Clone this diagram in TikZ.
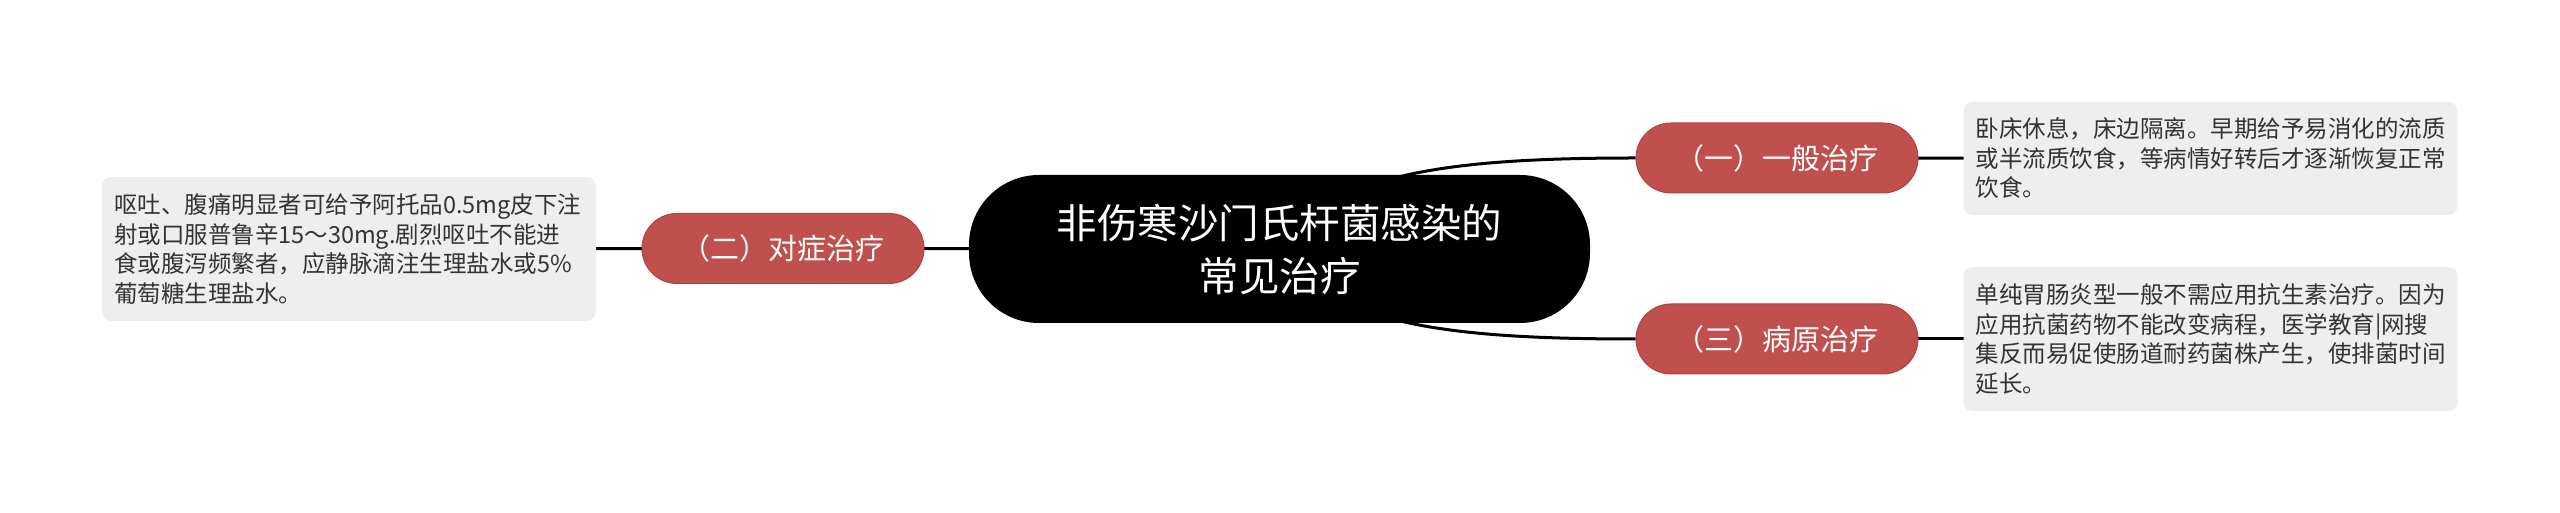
\documentclass[tikz,border=0pt]{standalone}
\usepackage{fontspec}
\usepackage{xcolor}
\usepackage{tikz}
\usetikzlibrary{backgrounds}
\newfontfamily\cjk{Noto Sans CJK SC}
\definecolor{branchred}{HTML}{C0504D}
\definecolor{branchedge}{HTML}{B0433F}
\definecolor{leafgray}{HTML}{EEEEEE}
\definecolor{leaftext}{HTML}{333333}

\begin{document}
\begin{tikzpicture}[x=1pt, y=1pt,
    rootbox/.style={fill=black, text=white, rounded corners=70pt, minimum width=621pt, minimum height=148pt, align=center, font=\cjk\fontsize{40.5}{53}\selectfont},
    branchbox/.style={fill=branchred, draw=branchedge, line width=1pt, text=white, rounded corners=35pt, minimum width=282pt, minimum height=70pt, font=\cjk\fontsize{29}{34}\selectfont},
    leafbox/.style={fill=leafgray, text=leaftext, rounded corners=9pt, text width=470pt, inner xsep=12pt, align=left, font=\cjk\fontsize{23.5}{29.5}\selectfont},
    link/.style={line width=3pt, black}]
    \useasboundingbox (0,0) rectangle (2560,513);
    % root
    \node[rootbox] (root) at (1279.5,264) {非伤寒沙门氏杆菌感染的\\常见治疗};
    % branch 2 (left)
    \node[branchbox] (symp) at (783,264.5) {（二）对症治疗};
    \node[leafbox, minimum height=144pt] (sympnote) at (349,264) {呕吐、腹痛明显者可给予阿托品0.5mg皮下注\\射或口服普鲁辛15～30mg.剧烈呕吐不能进\\食或腹泻频繁者，应静脉滴注生理盐水或5\%\\葡萄糖生理盐水。};
    % branch 1 (top right)
    \node[branchbox] (general) at (1777,355) {（一）一般治疗};
    \node[leafbox, minimum height=113pt] (generalnote) at (2210.5,354.5) {卧床休息，床边隔离。早期给予易消化的流质\\或半流质饮食，等病情好转后才逐渐恢复正常\\饮食。};
    % branch 3 (bottom right)
    \node[branchbox] (cause) at (1777,174) {（三）病原治疗};
    \node[leafbox, minimum height=144pt] (causenote) at (2210.5,174) {单纯胃肠炎型一般不需应用抗生素治疗。因为\\应用抗菌药物不能改变病程，医学教育|网搜\\集反而易促使肠道耐药菌株产生，使排菌时间\\延长。};
    % connectors
    \begin{scope}[on background layer]
        \draw[link] (root.center) .. controls +(51,76) and +(-186,0) .. (general.west);
        \draw[link] (root.center) .. controls +(51,-76) and +(-186,0) .. (cause.west);
        \draw[link] (root.center) -- (symp.center);
        \draw[link] (symp.center) -- (sympnote.center);
        \draw[link] (general.center) -- (generalnote.center);
        \draw[link] (cause.center) -- (causenote.center);
    \end{scope}
\end{tikzpicture}
\end{document}
